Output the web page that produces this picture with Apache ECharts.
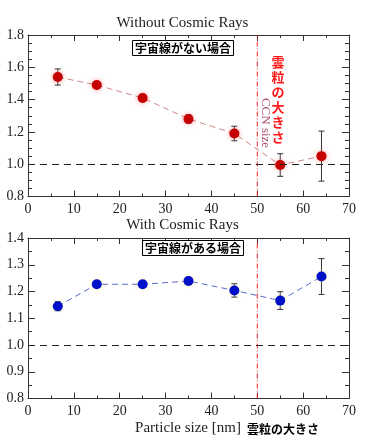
<!DOCTYPE html>
<html>
<head>
<meta charset="utf-8">
<script src="https://cdn.jsdelivr.net/npm/echarts@6/dist/echarts.min.js"></script>
<style>
html,body{margin:0;padding:0;background:#fff;}
#chart{width:365px;height:442px;}
</style>
</head>
<body>
<div id="chart"></div>
<script>
// Particle size (nm)
const particleSize = [6.5, 15, 25, 35, 45, 55, 64];
// Without cosmic rays
const ratioWithout = [1.54, 1.49, 1.41, 1.28, 1.19, 0.995, 1.05];
const errWithout   = [0.05, 0.012, 0.02, 0.025, 0.045, 0.07, 0.155];
// With cosmic rays
const ratioWith = [1.145, 1.227, 1.227, 1.239, 1.204, 1.166, 1.256];
const errWith   = [0.017, 0.008, 0.008, 0.013, 0.025, 0.033, 0.067];

const xTicksMin = 0, xTicksMax = 70, xInterval = 10;
const topY = {min: 0.8, max: 1.8, interval: 0.2, minorSplit: 4};
const botY = {min: 0.8, max: 1.4, interval: 0.1, minorSplit: 2};
const refLineY = 1.0;
const ccnSizeX = 50;

const serif = '"Liberation Serif", "DejaVu Serif", serif';
const cjk = '"Noto Sans CJK JP", "Noto Sans CJK SC", sans-serif';

const chart = echarts.init(document.getElementById('chart'));

function xAxisMain(gi) {
  return {
    type: 'value', gridIndex: gi, min: xTicksMin, max: xTicksMax, interval: xInterval,
    position: 'bottom',
    axisLine: {show: true, onZero: false, lineStyle: {color: '#333', width: 1}},
    axisTick: {show: true, inside: true, length: 6, lineStyle: {color: '#333'}},
    minorTick: {show: true, splitNumber: 2, length: 3, lineStyle: {color: '#333'}},
    splitLine: {show: false},
    axisLabel: {show: true, margin: 6, fontFamily: serif, fontSize: 14, color: '#222'}
  };
}
function xAxisTop(gi) {
  const a = xAxisMain(gi);
  a.position = 'top';
  a.axisLabel = {show: false};
  return a;
}
function yAxisMain(gi, cfg) {
  return {
    type: 'value', gridIndex: gi, min: cfg.min, max: cfg.max, interval: cfg.interval,
    position: 'left',
    axisLine: {show: true, onZero: false, lineStyle: {color: '#333', width: 1}},
    axisTick: {show: true, inside: true, length: 7, lineStyle: {color: '#333'}},
    minorTick: {show: true, splitNumber: cfg.minorSplit, length: 4, lineStyle: {color: '#333'}},
    splitLine: {show: false},
    axisLabel: {show: true, margin: 4, fontFamily: serif, fontSize: 14, color: '#222',
      formatter: v => v.toFixed(1)}
  };
}
function yAxisRight(gi, cfg) {
  const a = yAxisMain(gi, cfg);
  a.position = 'right';
  a.axisLabel = {show: false};
  return a;
}

function errRender(color) {
  return function (params, api) {
    const x = api.value(0), lo = api.value(1), hi = api.value(2);
    const pLo = api.coord([x, lo]), pHi = api.coord([x, hi]);
    const hw = 3;
    const st = {stroke: color, lineWidth: 1};
    return {
      type: 'group',
      children: [
        {type: 'line', shape: {x1: pLo[0], y1: pLo[1], x2: pHi[0], y2: pHi[1]}, style: st},
        {type: 'line', shape: {x1: pLo[0] - hw, y1: pLo[1], x2: pLo[0] + hw, y2: pLo[1]}, style: st},
        {type: 'line', shape: {x1: pHi[0] - hw, y1: pHi[1], x2: pHi[0] + hw, y2: pHi[1]}, style: st}
      ]
    };
  };
}

function hLine() {
  return {
    silent: true, symbol: 'none', label: {show: false}, animation: false,
    lineStyle: {color: '#222', type: [7, 5], width: 1},
    data: [{yAxis: refLineY}]
  };
}
function vLineSeries(xi, yi, cfg) {
  return {
    type: 'line', xAxisIndex: xi, yAxisIndex: yi, z: 2, silent: true,
    data: [[ccnSizeX, cfg.min], [ccnSizeX, cfg.max]],
    symbol: 'none',
    lineStyle: {color: '#ee2222', type: [5, 2, 1, 2], width: 1}
  };
}

const option = {
  animation: false,
  backgroundColor: '#fff',
  title: [
    {text: 'Without Cosmic Rays', left: 'center', top: 16, padding: 0,
      textStyle: {fontFamily: serif, fontSize: 15, fontWeight: 'normal', color: '#222'}},
    {text: 'With Cosmic Rays', left: 'center', top: 218, padding: 0,
      textStyle: {fontFamily: serif, fontSize: 15, fontWeight: 'normal', color: '#222'}},
    {text: '宇宙線がない場合', left: 132, top: 40, padding: [1, 3, 1, 3],
      backgroundColor: '#fff', borderColor: '#000', borderWidth: 1,
      textStyle: {fontFamily: cjk, fontSize: 12, fontWeight: 'bold', color: '#000', lineHeight: 14}},
    {text: '宇宙線がある場合', left: 142, top: 240, padding: [1, 3, 1, 3],
      backgroundColor: '#fff', borderColor: '#000', borderWidth: 1,
      textStyle: {fontFamily: cjk, fontSize: 12, fontWeight: 'bold', color: '#000', lineHeight: 14}}
  ],
  grid: [
    {left: 28, top: 35, width: 321, height: 161.5},
    {left: 28, top: 238, width: 321, height: 160.5}
  ],
  xAxis: [xAxisMain(0), xAxisTop(0), xAxisMain(1), xAxisTop(1)],
  yAxis: [yAxisMain(0, topY), yAxisRight(0, topY), yAxisMain(1, botY), yAxisRight(1, botY)],
  series: [
    vLineSeries(0, 0, topY),
    {
      type: 'custom', xAxisIndex: 0, yAxisIndex: 0, z: 3,
      renderItem: errRender('#333'),
      encode: {x: 0, y: [1, 2]},
      data: particleSize.map((x, i) => [x, ratioWithout[i] - errWithout[i], ratioWithout[i] + errWithout[i]]),
      markLine: hLine()
    },
    {
      type: 'line', xAxisIndex: 0, yAxisIndex: 0, z: 4,
      data: particleSize.map((x, i) => [x, ratioWithout[i]]),
      symbol: 'circle', symbolSize: 10,
      lineStyle: {color: '#d08888', width: 1, type: [6, 4]},
      itemStyle: {color: '#c40000', shadowBlur: 5, shadowColor: 'rgba(255,90,90,0.6)'}
    },
    vLineSeries(2, 2, botY),
    {
      type: 'custom', xAxisIndex: 2, yAxisIndex: 2, z: 3,
      renderItem: errRender('#333'),
      encode: {x: 0, y: [1, 2]},
      data: particleSize.map((x, i) => [x, ratioWith[i] - errWith[i], ratioWith[i] + errWith[i]]),
      markLine: hLine()
    },
    {
      type: 'line', xAxisIndex: 2, yAxisIndex: 2, z: 4,
      data: particleSize.map((x, i) => [x, ratioWith[i]]),
      symbol: 'circle', symbolSize: 10,
      lineStyle: {color: '#5a6ad0', width: 1, type: [6, 4]},
      itemStyle: {color: '#0010c8', shadowBlur: 4, shadowColor: 'rgba(240,230,150,0.6)'}
    }
  ],
  graphic: [
    {type: 'text', x: 278, y: 55, z: 10,
      style: {text: '雲\n粒\nの\n大\nき\nさ', fill: '#ff1a1a', fontFamily: cjk, fontSize: 13,
        fontWeight: 'bold', lineHeight: 15, align: 'center', verticalAlign: 'top'}},
    {type: 'text', x: 265, y: 123, rotation: -Math.PI / 2, z: 10,
      style: {text: 'CCN size', fill: '#a85070', fontFamily: serif, fontSize: 13,
        align: 'center', verticalAlign: 'middle'}},
    {type: 'text', x: 188, y: 428, z: 10,
      style: {text: 'Particle size [nm]', fill: '#222', fontFamily: serif, fontSize: 15,
        align: 'center', verticalAlign: 'middle'}},
    {type: 'text', x: 283, y: 429, z: 10,
      style: {text: '雲粒の大きさ', fill: '#000', fontFamily: cjk, fontSize: 12,
        fontWeight: 'bold', align: 'center', verticalAlign: 'middle'}}
  ]
};
chart.setOption(option);
</script>
</body>
</html>
